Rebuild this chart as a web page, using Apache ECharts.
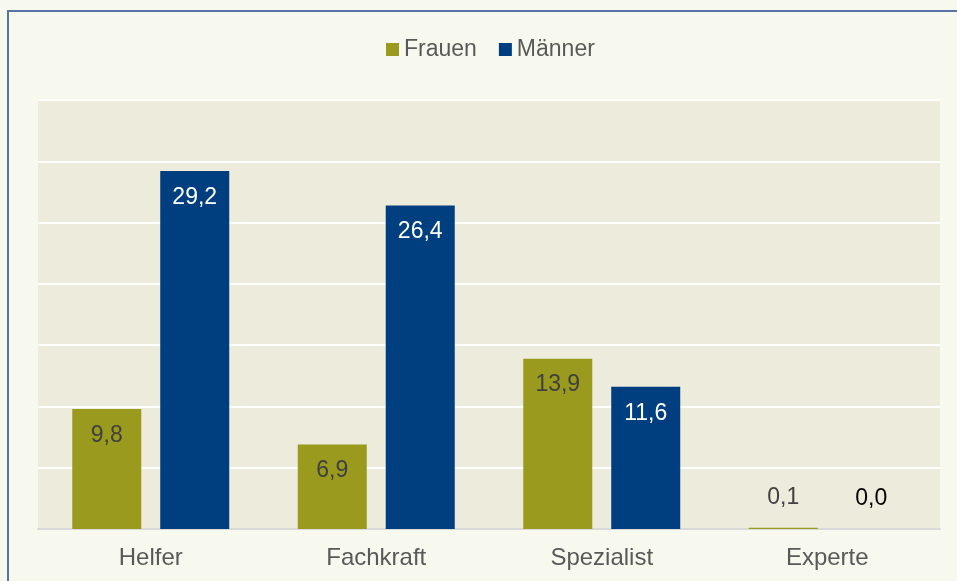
<!DOCTYPE html>
<html>
<head>
<meta charset="utf-8">
<script src="https://cdn.jsdelivr.net/npm/echarts@6/dist/echarts.min.js"></script>
<style>
  html, body { margin: 0; padding: 0; background: #f8f9ee; }
  #chart { width: 957px; height: 581px; }
</style>
</head>
<body>
<div id="chart"></div>
<script>
const categories = ["Helfer", "Fachkraft", "Spezialist", "Experte"];
const frauen = [9.8, 6.9, 13.9, 0.1];
const maenner = [29.2, 26.4, 11.6, 0.0];

const fmt = p => p.value.toFixed(1).replace(".", ",");

// tiny bars get their label above the bar, like the original
const withLabels = (values, smallColor) =>
  values.map(v => v < 1
    ? { value: v, label: { position: "top", distance: 19, color: smallColor } }
    : { value: v });

const chart = echarts.init(document.getElementById("chart"));

chart.setOption({
  backgroundColor: "#f8f9ee",
  textStyle: { fontFamily: "Liberation Sans, Arial, sans-serif" },
  graphic: [{
    type: "rect",
    shape: { x: 8, y: 11, width: 1000, height: 700 },
    style: { fill: null, stroke: "#5873a8", lineWidth: 2 },
    silent: true
  }],
  legend: {
    top: 38,
    left: 386,
    padding: 0,
    itemWidth: 13,
    itemHeight: 13,
    itemGap: 22,
    icon: "rect",
    textStyle: { fontSize: 23, color: "#595959" },
    data: ["Frauen", "Männer"]
  },
  grid: {
    left: 38,
    right: 17,
    top: 100,
    bottom: 52,
    show: true,
    backgroundColor: "#edebdb",
    borderWidth: 0
  },
  xAxis: {
    type: "category",
    data: categories,
    axisTick: { show: false },
    axisLine: { lineStyle: { color: "#d9d9d9", width: 2 } },
    axisLabel: { fontSize: 24, color: "#595959", margin: 17 }
  },
  yAxis: {
    type: "value",
    min: 0,
    max: 35,
    interval: 5,
    axisLabel: { show: false },
    axisLine: { show: false },
    axisTick: { show: false },
    splitLine: { lineStyle: { color: "#ffffff", width: 2 } }
  },
  series: [
    {
      name: "Frauen",
      type: "bar",
      data: withLabels(frauen, "#404040"),
      barWidth: 69,
      barGap: "27.5%",
      itemStyle: { color: "#9a9a1e" },
      label: {
        show: true,
        position: "insideTop",
        distance: 15,
        fontSize: 23,
        color: "#404040",
        formatter: fmt
      }
    },
    {
      name: "Männer",
      type: "bar",
      data: withLabels(maenner, "#000000"),
      barWidth: 69,
      barGap: "27.5%",
      itemStyle: { color: "#003f7f" },
      label: {
        show: true,
        position: "insideTop",
        distance: 15,
        fontSize: 23,
        color: "#ffffff",
        formatter: fmt
      }
    }
  ]
});

window.addEventListener("resize", () => chart.resize());
</script>
</body>
</html>
